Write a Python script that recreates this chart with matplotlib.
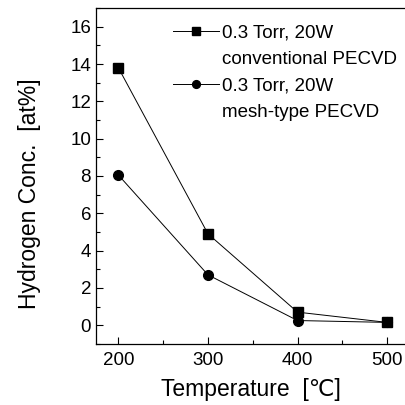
import numpy as np
import matplotlib
matplotlib.use("Agg")
from matplotlib import pyplot as plt
from matplotlib.lines import Line2D
from matplotlib.ticker import MultipleLocator

plt.rcParams['font.family'] = ['Liberation Sans', 'DejaVu Sans']

# data
temps = [200, 300, 400, 500]
h_conv = [13.8, 4.9, 0.7, 0.15]
h_mesh = [8.05, 2.7, 0.25, 0.15]
label_conv = ["0.3 Torr, 20W", "conventional PECVD"]
label_mesh = ["0.3 Torr, 20W", "mesh-type PECVD"]

fig = plt.figure(figsize=(4.05, 4.05), dpi=100)
ax = fig.add_axes([0.237, 0.151, 0.763, 0.829])

l1, = ax.plot(temps, h_conv, color='black', lw=0.7, marker='s', ms=6.5)
l2, = ax.plot(temps, h_mesh, color='black', lw=0.7, marker='o', ms=7)

ax.set_xlim(175, 520)
ax.set_ylim(-1, 17)
ax.xaxis.set_major_locator(MultipleLocator(100))
ax.xaxis.set_minor_locator(MultipleLocator(50))
ax.yaxis.set_major_locator(MultipleLocator(2))
ax.yaxis.set_minor_locator(MultipleLocator(1))
ax.tick_params(which='both', direction='in', labelsize=13.5, width=0.8)
ax.tick_params(which='major', length=5)
ax.tick_params(which='minor', length=3)
for s in ax.spines.values():
    s.set_linewidth(0.9)
ax.spines['right'].set_visible(False)
ax.tick_params(axis='x', pad=6)

ax.set_xlabel("Temperature  [\u2103]", fontsize=16.5, labelpad=6)
ax.set_ylabel("Hydrogen Conc.  [at%]", fontsize=16.5)
ax.yaxis.set_label_coords(-0.177, 0.446)

# second text line of each entry gets an empty handle
blank = Line2D([], [], linestyle='none')
handles = [l1, blank, l2, blank]
labels = label_conv + label_mesh
leg = ax.legend(handles, labels, loc='upper left', bbox_to_anchor=(0.403, 0.964),
                bbox_transform=fig.transFigure, frameon=False, fontsize=13.5,
                handlelength=2.5, handletextpad=0.15, labelspacing=0.5,
                markerscale=0.8, borderpad=0)

fig.savefig("out.png", dpi=100)
